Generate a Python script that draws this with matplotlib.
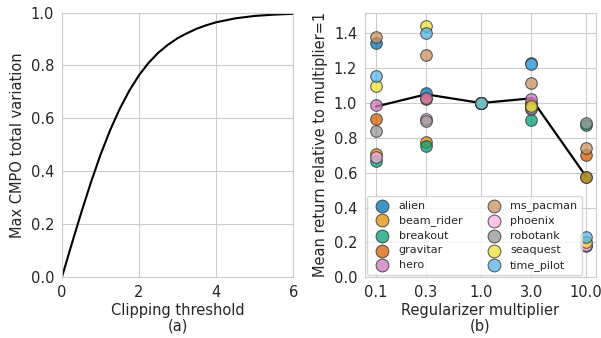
import matplotlib
matplotlib.use('Agg')
import matplotlib.pyplot as plt
import seaborn as sns

# (a) clipping threshold vs max total variation
clip_x = [0, 0.25, 0.5, 0.75, 1.0, 1.25, 1.5, 1.75, 2.0, 2.25, 2.5, 2.75,
          3.0, 3.25, 3.5, 3.75, 4.0, 4.5, 5.0, 5.5, 6.0]
clip_tv = [0.0, 0.123, 0.243, 0.357, 0.462, 0.555, 0.636, 0.705, 0.763, 0.81,
           0.848, 0.878, 0.903, 0.922, 0.939, 0.952, 0.963, 0.978, 0.987,
           0.992, 0.995]

# (b) mean return relative to multiplier=1
multipliers = [0.1, 0.3, 1.0, 3.0, 10.0]
games = ['alien', 'beam_rider', 'breakout', 'gravitar', 'hero',
         'ms_pacman', 'phoenix', 'robotank', 'seaquest', 'time_pilot']
returns = {
    'alien':      [1.345, 1.057, 1.0, 1.232, 0.578],
    'beam_rider': [0.705, 0.778, 1.0, 0.99, 0.578],
    'breakout':   [0.665, 0.754, 1.0, 0.903, 0.875],
    'gravitar':   [0.91, 1.025, 1.0, 1.0, 0.70],
    'hero':       [0.99, 1.03, 1.0, 1.025, 0.178],
    'ms_pacman':  [1.38, 1.278, 1.0, 1.118, 0.74],
    'phoenix':    [0.69, 0.91, 1.0, 0.965, 0.182],
    'robotank':   [0.84, 0.895, 1.0, 0.97, 0.887],
    'seaquest':   [1.10, 1.44, 1.0, 0.985, 0.20],
    'time_pilot': [1.155, 1.404, 1.0, 1.225, 0.23],
}
summary = [0.98, 1.05, 1.0, 1.027, 0.578]

sns.set_style('whitegrid')
plt.rcParams['font.family'] = ['DejaVu Sans']
colors = sns.color_palette('colorblind', len(games))

fig, (ax1, ax2) = plt.subplots(1, 2, figsize=(6.01, 3.38), dpi=100)
fig.subplots_adjust(left=0.103, right=0.992, bottom=0.18, top=0.963, wspace=0.31)

ax1.plot(clip_x, clip_tv, color='black', lw=1.5)
ax1.set_xlim(0, 6)
ax1.set_ylim(0, 1)
ax1.set_xlabel('Clipping threshold\n(a)', fontsize=10.5, linespacing=1.05, labelpad=2)
ax1.set_ylabel('Max CMPO total variation', fontsize=10.5, labelpad=4)
ax1.tick_params(labelsize=10.5, pad=2)

ax2.plot(multipliers, summary, color='black', lw=1.6, zorder=2)
for g, c in zip(games, colors):
    ax2.scatter(multipliers, returns[g], s=70, color=c, alpha=0.75,
                edgecolor='#333333', linewidth=0.8, label=g, zorder=3)
ax2.set_xscale('log')
ax2.set_xticks(multipliers)
ax2.set_xticklabels([str(m) for m in multipliers])
ax2.minorticks_off()
ax2.set_xlim(10 ** -1.105, 10 ** 1.096)
ax2.set_ylim(0, 1.52)
ax2.set_xlabel('Regularizer multiplier\n(b)', fontsize=10.5, linespacing=1.05, labelpad=2)
ax2.set_ylabel('Mean return relative to multiplier=1', fontsize=10.5, labelpad=4)
ax2.tick_params(labelsize=10.5, pad=2)
ax2.legend(ncol=2, loc='lower left', fontsize=8, borderaxespad=0.15,
           columnspacing=1.8, handletextpad=0.5, labelspacing=0.42,
           markerscale=1.1)

plt.savefig('out.png', dpi=100)
